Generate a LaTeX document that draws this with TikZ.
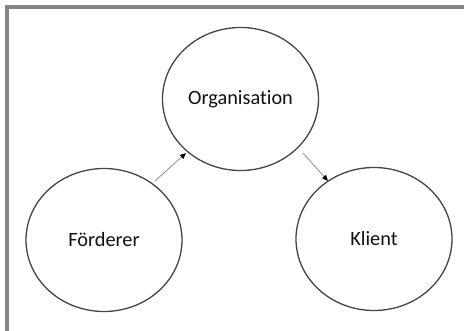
\documentclass[tikz,border=0pt]{standalone}
\usepackage{fontspec}
\setmainfont{Carlito}[Ligatures={NoCommon}]
\usetikzlibrary{arrows.meta,shapes.geometric}
\definecolor{framegray}{HTML}{858585}
\definecolor{circlegray}{HTML}{454545}
\definecolor{arrowgray}{HTML}{A0A0A0}
\definecolor{textdark}{HTML}{111111}
\tikzset{
  entity/.style={ellipse, draw=circlegray, line width=1.3pt, minimum width=156pt, minimum height=143pt, inner sep=0pt, font=\fontsize{20.3pt}{24pt}\selectfont, text=textdark},
  flow/.style={draw=arrowgray, line width=1pt, -{Triangle[length=6pt,width=5pt,fill=black,color=black]}},
  frameline/.style={draw=framegray, line width=4pt}
}
\begin{document}
\begin{tikzpicture}[x=1pt,y=-1pt]
\useasboundingbox (0,0) rectangle (464,331);
\fill[white] (0,0) rectangle (464,331);
\draw[frameline] (7,331) -- (7,7) -- (464,7);
\node[entity] (org) at (240.5,99) {Organisation};
\node[entity] (foe) at (104,240) {Förderer};
\node[entity] (kli) at (374,239) {Klient};
\coordinate (a1s) at (155,181);
\coordinate (a1e) at (186,153);
\coordinate (a2s) at (303,153);
\coordinate (a2e) at (328,181);
\draw[flow] (a1s) -- (a1e);
\draw[flow] (a2s) -- (a2e);
\end{tikzpicture}
\end{document}
